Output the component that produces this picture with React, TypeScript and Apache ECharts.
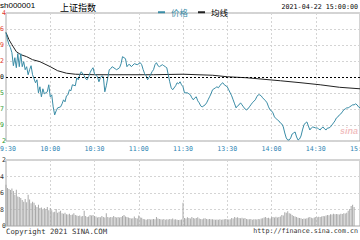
import React, { useEffect, useRef } from "react";
import * as echarts from "echarts";

const timeLabels = ["09:30", "10:00", "10:30", "11:00", "11:30", "13:30", "14:00", "14:30", "15:00"];
// visible (clipped) tick label digits, bottom → top
const priceTickLabels = ["2", "9", "7", "5", "0", "2", "9", "6", "4"];
const volumeTickLabels = ["0", "8", "6", "4", "2"];

const prevClose = 3473.6;
const priceMin = 3452.8;
const priceMax = 3494.4;
const priceStep = 5.2;
const volumeMax = 1392;
const volumeStep = 348;

const priceMinutes = [
  0, 1, 2, 3, 4, 5, 6, 7, 8, 9, 10, 11, 12, 13, 14, 15, 16, 17, 18, 20, 21, 22, 23, 24, 25, 26, 28, 29, 30, 31,
  32, 33, 34, 35, 37, 38, 39, 40, 41, 42, 43, 44, 45, 47, 48, 49, 50, 51, 53, 54, 55, 56, 57, 58, 59, 60, 62, 63,
  64, 65, 66, 67, 68, 69, 70, 71, 72, 74, 75, 77, 78, 79, 81, 82, 83, 84, 85, 87, 89, 91, 92, 93, 94, 95, 96, 98,
  99, 100, 101, 102, 103, 104, 106, 107, 108, 109, 110, 111, 112, 113, 115, 116, 117, 118, 119, 120, 121, 123,
  124, 125, 126, 127, 128, 129, 130, 131, 132, 133, 135, 136, 137, 138, 139, 140, 142, 143, 144, 145, 146, 147,
  148, 150, 151, 152, 153, 154, 155, 156, 157, 158, 159, 160, 161, 162, 163, 164, 165, 166, 167, 169, 170, 171,
  172, 173, 174, 176, 177, 178, 179, 180, 181, 182, 184, 185, 186, 187, 188, 189, 190, 191, 192, 193, 194, 195,
  196, 197, 198, 199, 200, 201, 202, 203, 204, 205, 206, 207, 208, 210, 211, 212, 213, 214, 215, 216, 217, 218,
  219, 220, 221, 222, 223, 224, 225, 226, 227, 228, 229, 230, 231, 232, 233, 234, 235, 236, 237, 238, 239, 240,
];
const priceValues = [
  3488.04, 3485.76, 3484.12, 3483.15, 3481.51, 3477.27, 3479.88, 3476.62, 3481.19, 3476.95, 3481.19, 3476.95,
  3478.58, 3475.97, 3476.95, 3474.34, 3475.97, 3477.27, 3474.34, 3471.73, 3472.7, 3468.46, 3470.42, 3467.16,
  3469.77, 3468.14, 3468.79, 3471.07, 3467.16, 3467.81, 3463.89, 3461.28, 3462.59, 3463.57, 3463.89, 3464.87,
  3466.18, 3465.53, 3467.48, 3467.81, 3469.44, 3469.12, 3471.07, 3470.75, 3473.36, 3472.7, 3474.34, 3475.31,
  3474.01, 3473.03, 3472.7, 3473.68, 3474.99, 3475.97, 3476.62, 3474.66, 3473.68, 3472.05, 3473.36, 3474.01,
  3473.68, 3468.79, 3470.75, 3473.36, 3475.97, 3476.29, 3476.95, 3476.29, 3475.97, 3476.62, 3477.93, 3480.21,
  3479.56, 3476.95, 3477.6, 3477.6, 3476.95, 3477.93, 3477.6, 3478.25, 3477.6, 3475.97, 3474.66, 3474.01,
  3472.7, 3474.34, 3475.31, 3475.97, 3477.6, 3478.25, 3477.27, 3476.95, 3477.6, 3477.27, 3476.95, 3476.62,
  3474.34, 3472.05, 3470.09, 3469.44, 3470.75, 3471.73, 3471.4, 3472.05, 3471.07, 3470.42, 3468.46, 3468.46,
  3468.14, 3467.81, 3466.83, 3466.18, 3466.83, 3467.16, 3465.85, 3465.2, 3464.22, 3463.89, 3464.55, 3465.2,
  3466.18, 3467.16, 3468.14, 3469.44, 3470.09, 3470.42, 3470.09, 3470.75, 3471.4, 3471.73, 3471.07, 3470.42,
  3469.44, 3468.46, 3467.48, 3466.18, 3464.87, 3463.57, 3464.22, 3464.55, 3465.2, 3464.55, 3463.89, 3463.24,
  3462.92, 3463.24, 3463.89, 3464.55, 3465.2, 3466.18, 3467.16, 3467.81, 3467.81, 3467.48, 3466.83, 3465.85,
  3465.2, 3463.89, 3462.92, 3462.59, 3461.94, 3460.63, 3459.65, 3459.33, 3458.67, 3458.35, 3457.37, 3455.41,
  3453.78, 3453.13, 3453.13, 3453.78, 3455.08, 3455.41, 3455.74, 3454.11, 3453.13, 3453.45, 3454.43, 3456.39,
  3458.02, 3458.67, 3459.0, 3457.69, 3456.39, 3457.04, 3457.37, 3457.04, 3457.04, 3456.72, 3456.39, 3457.04,
  3457.37, 3456.72, 3456.39, 3457.04, 3457.04, 3457.37, 3458.02, 3458.67, 3459.33, 3460.3, 3460.63, 3461.28,
  3461.61, 3462.26, 3462.92, 3463.24, 3463.57, 3463.57, 3463.89, 3464.22, 3464.55, 3464.55, 3464.87, 3464.55,
  3463.89, 3463.57,
];

const avgMinutes = [0, 2, 4, 7, 10, 14, 18, 23, 30, 35, 41, 47, 60, 100, 120, 140, 150, 163, 186, 200, 213, 226, 240];
const avgValues = [
  3488.04, 3485.76, 3484.12, 3481.84, 3480.86, 3480.21, 3479.23, 3478.58, 3476.95, 3475.64, 3474.83, 3474.5,
  3474.34, 3474.34, 3474.5, 3474.17, 3473.68, 3473.36, 3472.38, 3471.73, 3471.07, 3470.26, 3469.77,
];

const volumeValues = [
  871, 800, 780, 760, 790, 740, 660, 765, 620, 610,
  590, 550, 510, 570, 500, 660, 560, 480, 510, 490,
  440, 400, 450, 380, 390, 340, 380, 360, 400, 330,
  380, 330, 290, 300, 360, 280, 300, 320, 270, 260,
  280, 250, 240, 260, 230, 240, 270, 230, 220, 210,
  220, 200, 210, 320, 210, 190, 200, 230, 220, 230,
  210, 200, 180, 190, 185, 210, 190, 180, 270, 190,
  180, 190, 185, 210, 190, 180, 190, 180, 190, 210,
  230, 200, 190, 180, 170, 160, 165, 200, 170, 160,
  220, 180, 175, 150, 140, 130, 145, 150, 135, 140,
  150, 140, 190, 160, 150, 140, 135, 150, 130, 140,
  135, 150, 145, 160, 135, 140, 130, 125, 130, 135,
  490, 170, 160, 185, 170, 160, 190, 170, 160, 170,
  185, 160, 150, 145, 160, 165, 150, 145, 150, 140,
  145, 135, 130, 135, 130, 140, 130, 135, 145, 150,
  140, 135, 145, 170, 160, 190, 175, 185, 170, 165,
  175, 160, 170, 150, 145, 140, 150, 130, 140, 145,
  135, 150, 140, 160, 165, 180, 190, 170, 175, 160,
  185, 190, 180, 195, 180, 190, 200, 230, 220, 290,
  280, 310, 270, 260, 230, 210, 200, 190, 175, 170,
  165, 150, 160, 155, 165, 180, 190, 175, 165, 180,
  190, 185, 195, 190, 200, 210, 205, 220, 230, 225,
  250, 240, 260, 250, 255, 250, 245, 260, 255, 270,
  265, 280, 320, 360, 420, 450, 400, 0, 0, 0,
  0,
];

const TEAL = "#3a8ca6";
const MONO = "'DejaVu Sans Mono', monospace";
const CJK = "'Noto Sans CJK SC', sans-serif";

export default function App() {
  const ref = useRef<HTMLDivElement>(null);
  useEffect(() => {
    if (!ref.current) return;
    const chart = echarts.init(ref.current, undefined, { renderer: "svg" });
    const priceIdx = (v: any) => Math.round((parseFloat(v) - priceMin) / priceStep);
    const splitStyle = { show: true, lineStyle: { color: "#d4d4d4", type: [2, 2] as any, width: 1 } };
    const timeLabel = {
      margin: 4,
      fontSize: 6.6,
      fontFamily: MONO,
      color: "#2f86b4",
      alignMinLabel: "center",
      alignMaxLabel: "center",
      hideOverlap: false,
      formatter: (v: number) => timeLabels[Math.round(v / 30)],
    };
    chart.setOption({
      animation: false,
      legend: {
        left: 153,
        top: 3,
        icon: "rect",
        itemWidth: 7,
        itemHeight: 2,
        itemGap: 10,
        textStyle: { fontSize: 8.5, fontFamily: CJK, padding: [0, 0, 0, 1] },
        data: [
          { name: "价格", textStyle: { color: TEAL } },
          { name: "均线", textStyle: { color: "#000" } },
        ],
      },
      grid: [
        { left: 6, right: 0, top: 13, height: 128, show: true, borderColor: "#a8a8a8", borderWidth: 1, backgroundColor: "transparent", containLabel: false, outerBoundsMode: "none" },
        { left: 6, right: 0, top: 160, height: 66, show: true, borderColor: "#a8a8a8", borderWidth: 1, backgroundColor: "transparent", containLabel: false, outerBoundsMode: "none" },
      ],
      xAxis: [
        {
          type: "value",
          gridIndex: 0,
          min: 0,
          max: 240,
          interval: 30,
          axisLine: { show: false },
          axisTick: { show: false },
          axisLabel: timeLabel,
          splitLine: splitStyle,
        },
        {
          type: "value",
          gridIndex: 1,
          min: 0,
          max: 240,
          interval: 30,
          axisLine: { show: false },
          axisTick: { show: false },
          axisLabel: { show: false },
          splitLine: splitStyle,
        },
      ],
      yAxis: [
        {
          type: "value",
          gridIndex: 0,
          min: priceMin,
          max: priceMax,
          interval: priceStep,
          axisLine: { show: false },
          axisTick: { show: false },
          axisLabel: {
            margin: 2,
            fontSize: 6.5,
            lineHeight: 6,
            fontFamily: MONO,
            alignMinLabel: "center",
            alignMaxLabel: "center",
            formatter: (v: number) => priceTickLabels[priceIdx(v)] ?? "",
            color: (v: any) => {
              const k = priceIdx(v);
              return k > 4 ? "#e0382e" : k < 4 ? "#2e9a2e" : "#000";
            },
          },
          splitLine: splitStyle,
        },
        {
          type: "value",
          gridIndex: 1,
          min: 0,
          max: volumeMax,
          interval: volumeStep,
          axisLine: { show: false },
          axisTick: { show: false },
          axisLabel: {
            margin: 2,
            fontSize: 6.5,
            lineHeight: 6,
            fontFamily: MONO,
            color: "#333",
            alignMinLabel: "center",
            alignMaxLabel: "center",
            formatter: (v: number) => volumeTickLabels[Math.round(v / volumeStep)] ?? "",
          },
          splitLine: splitStyle,
        },
      ],
      series: [
        {
          name: "价格",
          type: "line",
          xAxisIndex: 0,
          yAxisIndex: 0,
          data: priceMinutes.map((m, i) => [m, priceValues[i]]),
          showSymbol: false,
          symbol: "none",
          lineStyle: { color: TEAL, width: 1 },
          itemStyle: { color: TEAL },
          z: 3,
          markLine: {
            silent: true,
            symbol: "none",
            label: { show: false },
            lineStyle: { color: "#000", type: [2, 2] as any, width: 1 },
            data: [{ yAxis: prevClose }],
          },
        },
        {
          name: "均线",
          type: "line",
          xAxisIndex: 0,
          yAxisIndex: 0,
          data: avgMinutes.map((m, i) => [m, avgValues[i]]),
          showSymbol: false,
          symbol: "none",
          lineStyle: { color: "#222", width: 1 },
          itemStyle: { color: "#222" },
          z: 2,
        },
        {
          name: "成交量",
          type: "bar",
          xAxisIndex: 1,
          yAxisIndex: 1,
          data: volumeValues.map((v, i) => [i, v]),
          barWidth: 1,
          itemStyle: { color: "#a9a9a9" },
        },
      ],
      graphic: [
        { type: "text", x: 0, y: 5.8, style: { text: "sh000001", fontSize: 8, lineHeight: 8, fontFamily: "'Liberation Sans', sans-serif", fill: "#000", verticalAlign: "middle" } },
        { type: "text", x: 60, y: 7.5, style: { text: "上证指数", fontSize: 9, fontFamily: CJK, fill: "#000", verticalAlign: "middle" } },
        { type: "text", x: 358, y: 7, style: { text: "2021-04-22 15:00:00", fontSize: 6.7, fontFamily: MONO, fill: "#000", align: "right", verticalAlign: "middle" } },
        { type: "text", x: 6, y: 231, style: { text: "Copyright 2021 SINA.COM", fontSize: 7.3, fontFamily: MONO, fill: "#333", verticalAlign: "middle" } },
        { type: "text", x: 358, y: 231, style: { text: "http://finance.sina.com.cn", fontSize: 6.7, fontFamily: MONO, fill: "#333", align: "right", verticalAlign: "middle" } },
        { type: "text", x: 340, y: 131, style: { text: "sina", fontSize: 9, fontStyle: "italic", fontWeight: "bold", fontFamily: "'Liberation Sans', sans-serif", fill: "rgba(225,110,110,0.45)", verticalAlign: "middle" } },
      ],
    });
    return () => chart.dispose();
  }, []);
  return <div ref={ref} style={{ position: "absolute", left: 0, top: 0, width: 360, height: 240 }} />;
}
